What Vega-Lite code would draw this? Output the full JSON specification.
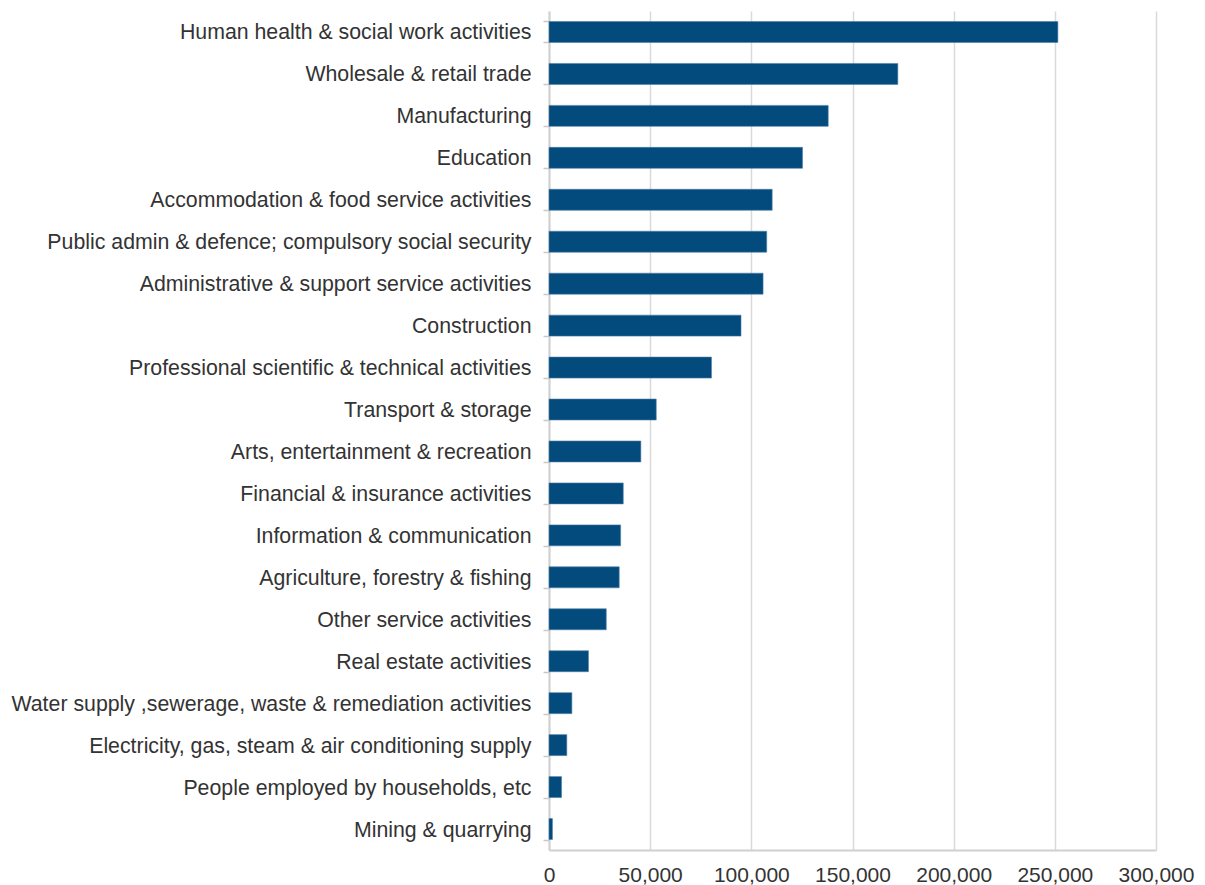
{
  "$schema": "https://vega.github.io/schema/vega-lite/v6.json",
  "autosize": {"type": "none"},
  "padding": {"left": 549, "top": 11, "right": 49, "bottom": 35},
  "width": 607,
  "height": 839,
  "background": "white",
  "config": {
    "view": {"stroke": null},
    "font": "Liberation Sans"
  },
  "data": {
    "values": [
      {"industry": "Human health & social work activities", "value": 251500},
      {"industry": "Wholesale & retail trade", "value": 172400},
      {"industry": "Manufacturing", "value": 138000},
      {"industry": "Education", "value": 125300},
      {"industry": "Accommodation & food service activities", "value": 110300},
      {"industry": "Public admin & defence; compulsory social security", "value": 107600},
      {"industry": "Administrative & support service activities", "value": 105800},
      {"industry": "Construction", "value": 94900},
      {"industry": "Professional scientific & technical activities", "value": 80300},
      {"industry": "Transport & storage", "value": 53000},
      {"industry": "Arts, entertainment & recreation", "value": 45400},
      {"industry": "Financial & insurance activities", "value": 36700},
      {"industry": "Information & communication", "value": 35400},
      {"industry": "Agriculture, forestry & fishing", "value": 34700},
      {"industry": "Other service activities", "value": 28300},
      {"industry": "Real estate activities", "value": 19500},
      {"industry": "Water supply ,sewerage, waste & remediation activities", "value": 11300},
      {"industry": "Electricity, gas, steam & air conditioning supply", "value": 8800},
      {"industry": "People employed by households, etc", "value": 6200},
      {"industry": "Mining & quarrying", "value": 1700}
    ]
  },
  "mark": {"type": "bar", "color": "#034A7D", "stroke": "#4F7FA8", "strokeWidth": 0.6},
  "encoding": {
    "y": {
      "field": "industry",
      "type": "nominal",
      "sort": null,
      "title": null,
      "scale": {"paddingInner": 0.5, "paddingOuter": 0.25},
      "axis": {
        "tickBand": "extent",
        "tickSize": 6,
        "tickColor": "#c8c8c8",
        "tickWidth": 1.5,
        "domainColor": "#d0d0d0",
        "domainWidth": 2,
        "labelFont": "Liberation Sans",
        "labelFontSize": 21.3,
        "labelColor": "#333333",
        "labelPadding": 12,
        "labelOffset": 1,
        "labelLimit": 600
      }
    },
    "x": {
      "field": "value",
      "type": "quantitative",
      "title": null,
      "scale": {"domain": [0, 300000], "nice": false},
      "axis": {
        "values": [0, 50000, 100000, 150000, 200000, 250000, 300000],
        "format": ",.0f",
        "ticks": false,
        "grid": true,
        "gridColor": "#d9d9d9",
        "gridWidth": 1.5,
        "domainColor": "#d0d0d0",
        "domainWidth": 2,
        "labelFont": "Liberation Sans",
        "labelFontSize": 21,
        "labelColor": "#333333",
        "labelPadding": 14,
        "labelFlush": false
      }
    }
  }
}
